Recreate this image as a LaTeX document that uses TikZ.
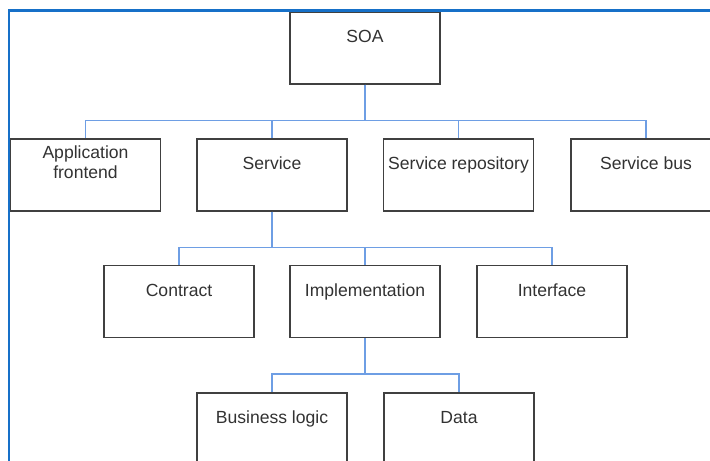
\documentclass[tikz,border=0pt]{standalone}
\usepackage{fontspec}
\setmainfont{Liberation Sans}
\definecolor{framblue}{RGB}{22,112,200}
\definecolor{linkblue}{RGB}{110,158,228}
\definecolor{boxgray}{RGB}{64,64,64}
\definecolor{txtgray}{RGB}{50,50,50}
\tikzset{
	box/.style={draw=boxgray, line width=0.6pt, minimum width=3cm, inner sep=0pt,
		text height=0.62cm, text depth=0.82cm, text=txtgray, align=center,
		font=\fontsize{10}{11}\selectfont},
	link/.style={draw=linkblue, line width=0.7pt},
	frame/.style={draw=framblue, line width=1.7pt}
}
\begin{document}
\begin{tikzpicture}
		\useasboundingbox (0,0) rectangle (14.2,9.22);
		\clip (0,0) rectangle (14.2,9.22);
		
		% Root
		\node[box] (soa) at (7.30,8.26) {SOA};
		
		% First level
		\node[box, text height=0.80cm, text depth=0.64cm,
			font=\fontsize{10}{11.5}\selectfont] (app) at (1.71,5.72) {Application\\frontend};
		\node[box] (svc) at (5.44,5.72) {Service};
		\node[box] (repo) at (9.17,5.72) {Service repository};
		\node[box] (bus) at (12.92,5.72) {Service bus};
		
		% Service parts
		\node[box] (contract) at (3.58,3.19) {Contract};
		\node[box] (impl) at (7.30,3.19) {Implementation};
		\node[box] (iface) at (11.04,3.19) {Interface};
		
		% Implementation parts
		\node[box] (logic) at (5.44,0.64) {Business logic};
		\node[box] (data) at (9.18,0.64) {Data};
		
		% Links
		\foreach \c in {app,svc,repo,bus}
			\draw[link] (soa.south) -- ++(0,-0.72) -| (\c.north);
		\foreach \c in {contract,impl,iface}
			\draw[link] (svc.south) -- ++(0,-0.72) -| (\c.north);
		\foreach \c in {logic,data}
			\draw[link] (impl.south) -- ++(0,-0.72) -| (\c.north);
		
		% Frame
		\draw[frame] (0.18,-0.2) -- (0.18,9.00) -- (14.4,9.00);
	\end{tikzpicture}
\end{document}
